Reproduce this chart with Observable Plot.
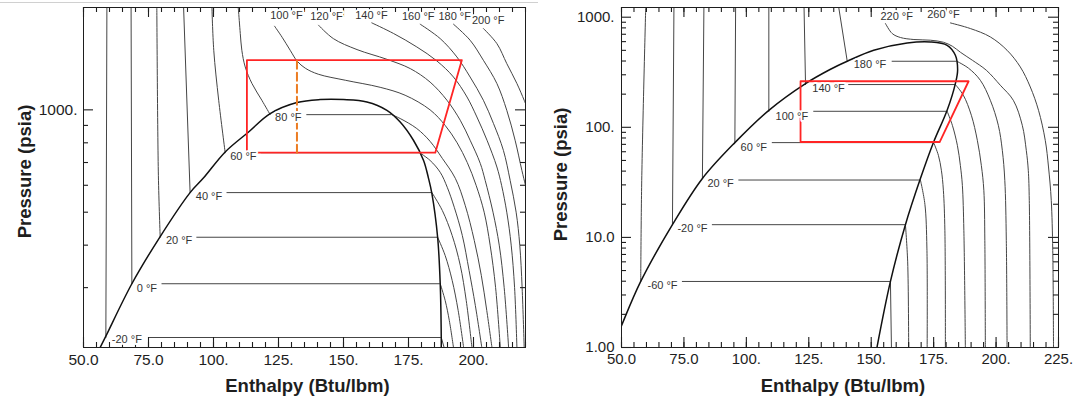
<!DOCTYPE html>
<html>
<head>
<meta charset="utf-8">
<script src="https://cdn.jsdelivr.net/npm/d3@7"></script>
<script src="https://cdn.jsdelivr.net/npm/@observablehq/plot@0.6"></script>
<style>
  html, body { margin: 0; padding: 0; background: #fff; }
  #wrap { position: relative; width: 1090px; height: 402px; overflow: hidden; background: #fff; }
  #left { position: absolute; left: 0; top: 0; }
  #right { position: absolute; left: 540px; top: 0; }
  #rule { position: absolute; left: 0; top: 2px; width: 538px; height: 1px; background: #d0d0d0; }
</style>
</head>
<body>
<div id="wrap"><div id="left"></div><div id="right"></div><div id="rule"></div></div>
<script>
// ---------------- LEFT CHART (CO2) : enthalpy h (Btu/lbm), pressure P (psia) ----------------
const co2XTicks = [50, 75, 100, 125, 150, 175, 200];
const co2XTickLabels = ["50.0", "75.0", "100.", "125.", "150.", "175.", "200."];
const co2XMinorTicks = d3.range(50, 221, 5);
const co2YTicks = [1000];
const co2YTickLabels = ["1000."];
const co2YMinorTicks = [300, 400, 500, 600, 700, 800, 900];

// saturation dome [h, P]
const co2Dome = [
  [56.4,200],[58.6,216],[68.6,308],[79.5,424],[91.0,571],[96.2,631],[104.5,752],[113.5,861],
  [121.8,975],[132.1,1051],[141.0,1072],[150.0,1072],[159.0,1055],[166.7,997],[171.8,921],
  [176.9,814],[180.8,710],[182.7,629],[184.0,567],[186.2,422],[187.2,308],[187.6,214],[187.6,200]
];
// compressed-liquid isotherms [T, h, P]
const co2Liquid = [
  [-20,58.6,214],[-20,59.0,2000],
  [0,68.6,308],[0,68.3,2000],
  [20,79.5,422],[20,78.8,642],[20,78.2,2000],
  [40,91.0,571],[40,88.5,2000],
  [60,104.5,748],[60,102.0,1067],[60,100.1,1497],[60,99.4,2000],
  [80,121.8,968],[80,118.6,1067],[80,114.8,1195],[80,112.2,1337],[80,110.9,1497],[80,110.3,1678],[80,109.6,1964],[80,109.5,2000]
];
// two-phase isotherm segments [T, hStart, hEnd, P]
const co2TwoPhase = [
  [-20,75.0,187.6,214],[0,80.2,187.2,308],[20,93.6,186.2,422],
  [40,105.2,184.0,571],[60,118.4,179.3,748],[80,135.9,168.5,968]
];
// vapour isotherms [T, h, P]
const co2Vapor = [
  [-20,187.6,214],[-20,188.7,200],
  [0,187.2,308],[0,189.1,275],[0,190.7,240],[0,192.3,200],
  [20,186.2,422],[20,189.1,373],[20,191.8,315],[20,194.1,257],[20,196.2,200],
  [40,184.0,571],[40,188.0,506],[40,191.8,427],[40,194.9,349],[40,197.2,275],[40,199.4,200],
  [60,179.3,748],[60,183.3,710],[60,187.2,655],[60,189.9,592],[60,192.6,517],[60,195.7,427],[60,198.3,337],[60,200.7,266],[60,203.2,200],
  [80,168.5,968],[80,171.8,943],[80,178.2,881],[80,183.3,808],[80,188.0,720],[80,193.0,629],[80,196.8,524],[80,200.3,413],[80,203.0,326],[80,205.1,257],[80,207.1,200]
];
// supercritical isotherms [T, h, P]
const co2Super = [
  [100,123.5,1762],[100,126.4,1635],[100,129.5,1497],[100,132.2,1390],[100,135.3,1326],[100,140.3,1273],[100,150.7,1222],[100,164.1,1165],[100,173.7,1104],[100,183.3,1000],[100,189.1,900],[100,193.7,800],[100,197.6,700],[100,201.0,600],[100,204.1,500],[100,206.4,400],[100,208.5,300],[100,210.3,200],
  [120,140.4,1774],[120,146.1,1620],[120,155.2,1504],[120,166.7,1408],[120,175.7,1322],[120,183.3,1207],[120,189.8,1067],[120,194.9,932],[120,198.7,814],[120,202.6,696],[120,204.5,620],[120,207.5,500],[120,209.9,400],[120,211.8,300],[120,213.5,200],
  [140,160.9,1802],[140,169.2,1678],[140,178.2,1531],[140,185.9,1393],[140,192.3,1249],[140,197.5,1091],[140,201.3,953],[140,205.2,814],[140,209.0,679],[140,210.8,600],[140,212.8,500],[140,214.5,400],[140,215.8,300],[140,216.7,200],
  [160,179.5,1786],[160,187.2,1620],[160,193.6,1431],[160,198.7,1249],[160,203.8,1067],[160,207.7,911],[160,211.5,760],[160,214.1,620],[160,216.4,500],[160,217.8,400],[160,218.7,300],[160,219.5,200],
  [180,192.3,1786],[180,198.7,1602],[180,203.8,1399],[180,209.0,1195],[180,212.8,997],[180,216.0,814],[180,218.6,664],[180,220.0,600],[180,221.0,560],
  [200,203.8,1735],[200,209.0,1566],[200,212.8,1368],[200,216.7,1195],[200,219.5,1067],[200,221.0,1000]
];
// isotherm labels [text, h, P]
const co2Labels = [
  ["-20 °F",60.9,211],["0 °F",70.5,299],["20 °F",81.7,413],["40 °F",93.2,557],
  ["60 °F",106.4,730],["80 °F",123.7,949],
  ["100 °F",121.8,1889],["120 °F",137.2,1888],["140 °F",154.5,1898],
  ["160 °F",172.5,1888],["180 °F",186.5,1888],["200 °F",199.4,1835]
];
// cycle (red) and expansion (orange dashed) [h, P]
const co2Cycle = [[112.85,748],[185.3,748],[195.5,1400],[112.85,1400],[112.85,748]];
const co2Expansion = [[132.1,748],[132.1,1400]];

// ---------------- RIGHT CHART (R-134a) ----------------
const rXTicks = [50, 75, 100, 125, 150, 175, 200, 225];
const rXTickLabels = ["50.0", "75.0", "100.", "125.", "150.", "175.", "200.", "225."];
const rXMinorTicks = d3.range(50, 226, 5);
const rYTicks = [1, 10, 100, 1000];
const rYTickLabels = ["1.00", "10.0", "100.", "1000."];
const rYMinorTicks = [2,3,4,5,6,7,8,9,20,30,40,50,60,70,80,90,200,300,400,500,600,700,800,900];

const rDome = [
  [48.1,1.24],[50.0,1.58],[57.7,3.98],[70.4,13.05],[82.4,34.3],[95.4,72.6],[109.0,142.7],[123.7,249.6],
  [133.7,336.8],[140.4,398],[151.0,501],[164.4,583.6],[173.7,596.5],[180.4,556],[183.7,451],
  [184.6,330],[183.7,249.6],[180.4,142.7],[175.0,73.5],[169.7,34.2],[163.7,13.05],[157.7,3.98],[152.3,1.0]
];
const rLiquid = [
  [-60,57.7,3.98],[-60,58.1,33],[-60,59.7,1225],
  [-20,70.4,13.05],[-20,71.0,1225],
  [20,82.4,34.3],[20,83.0,1225],
  [60,95.4,72.6],[60,95.7,1225],
  [100,109.0,139.8],[100,109.0,1225],
  [140,123.7,244.5],[140,123.1,1225],
  [180,140.4,398],[180,137.0,1225]
];
const rTwoPhase = [
  [-60,74.4,157.7,3.98],[-20,86.4,163.7,13.05],[20,97.0,169.7,33.2],[60,110.4,175.0,72.6],
  [100,127.0,180.4,139.8],[140,141.0,183.7,244.5],[180,158.4,184.3,398]
];
const rVapor = [
  [-60,157.7,3.98],[-60,158.1,1],
  [-20,163.7,13.05],[-20,164.6,6],[-20,165.0,1],
  [20,169.7,33.2],[20,171.5,20],[20,172.3,8],[20,172.4,1],
  [60,175.0,72.6],[60,176.9,55.7],[60,178.1,40.7],[60,178.9,26.8],[60,179.5,11.6],[60,179.7,1],
  [100,180.4,139.8],[100,182.5,104.3],[100,184.5,68.6],[100,185.7,45.1],[100,186.5,29.7],[100,187.1,11.6],[100,187.7,1],
  [140,183.7,244.5],[140,186.9,195.5],[140,190.1,128.6],[140,192.5,76.2],[140,194.1,45.1],[140,195.1,26.8],[140,195.5,9.4],[140,195.7,1],
  [180,184.3,398],[180,189.0,343.8],[180,193.7,267.4],[180,197.7,176],[180,200.9,104.3],[180,202.5,61.8],[180,203.5,33],[180,204.1,9.4],[180,204.4,1]
];
const rSuper = [
  [220,155.7,876.6],[220,158.4,711],[220,161.7,654],[220,167.1,627],[220,173.7,618],[220,178.9,592.5],[220,182.5,545],[220,185.7,480.7],[220,190.5,406.5],[220,196.1,329.7],[220,201.7,240.9],[220,206.9,176],[220,210.5,104.3],[220,212.1,61.8],[220,212.9,40.7],[220,213.3,21.7],[220,213.7,1],
  [260,181.7,887.5],[260,189.7,789],[260,197.7,662],[260,204.4,501],[260,209.7,353.4],[260,213.7,232.4],[260,217.0,142.7],[260,219.7,76.2],[260,221.0,43.6],[260,222.1,21.7],[260,222.7,7.6],[260,223.0,1]
];
const rLabels = [
  ["-60 °F",60.4,3.66],["-20 °F",72.4,12.0],["20 °F",84.4,30.8],["60 °F",97.7,66.2],
  ["100 °F",111.7,125.9],["140 °F",126.4,224.8],["180 °F",143.0,371.6],
  ["220 °F",153.7,1021],["260 °F",172.4,1050]
];
const rCycle = [[121.7,73.5],[177.4,73.5],[189.0,262],[121.7,262],[121.7,73.5]];

// ---------------- drawing ----------------
const FONT = "'Liberation Sans', Arial, Helvetica, sans-serif";
const INK = "#1e1e1e";
const ISO = "#454545";
const HEIGHT = 402, MT = 7, MB = 55;

// inward ticks on all four sides, drawn as frame-spanning ticks with large insets
function tickMarks(c) {
  const fh = HEIGHT - MT - MB, fw = c.width - c.ml - c.mr;
  const s = {stroke: INK, strokeWidth: 1.1};
  const X = d => d;
  return [
    Plot.tickX(c.xMinor, {x: X, insetTop: fh - 5, ...s}),
    Plot.tickX(c.xMinor, {x: X, insetBottom: fh - 5, ...s}),
    Plot.tickX(c.xTicks, {x: X, insetTop: fh - 10, ...s}),
    Plot.tickX(c.xTicks, {x: X, insetBottom: fh - 10, ...s}),
    Plot.tickY(c.yMinor, {y: X, insetRight: fw - 5, ...s}),
    Plot.tickY(c.yMinor, {y: X, insetLeft: fw - 5, ...s}),
    Plot.tickY(c.yTicks, {y: X, insetRight: fw - 10, ...s}),
    Plot.tickY(c.yTicks, {y: X, insetLeft: fw - 10, ...s})
  ];
}

function chart(c) {
  const iso = {x: d => d[1], y: d => d[2], z: d => d[0], stroke: ISO, strokeWidth: 1, curve: "catmull-rom", clip: true};
  const fmt = (ticks, labels) => d => labels[ticks.indexOf(d)];
  const marks = [
    Plot.line(c.liquid, iso),
    Plot.ruleY(c.twoPhase, {y: d => d[3], x1: d => d[1], x2: d => d[2], stroke: ISO, strokeWidth: 1}),
    Plot.line(c.vapor, iso),
    Plot.line(c.superc, iso),
    Plot.line(c.dome, {x: d => d[0], y: d => d[1], stroke: "#111", strokeWidth: 1.5, curve: "catmull-rom", clip: true}),
    Plot.line(c.cycle, {x: d => d[0], y: d => d[1], stroke: "#ff2424", strokeWidth: 1.8}),
    c.expansion ? Plot.line(c.expansion, {x: d => d[0], y: d => d[1], stroke: "#ec7c22", strokeWidth: 2, strokeDasharray: "8,4"}) : null,
    ...tickMarks(c),
    Plot.text(c.labels, {x: d => d[1], y: d => d[2], text: d => d[0], textAnchor: "start",
      fontSize: 11, fill: "#333", stroke: "white", strokeWidth: 4, paintOrder: "stroke"}),
    Plot.frame({stroke: INK, strokeWidth: 1}),
    Plot.axisX(c.xTicks, {anchor: "bottom", tickSize: 0, tickPadding: 6, tickFormat: fmt(c.xTicks, c.xLabels),
      label: null, fontSize: c.tickFont, fill: INK}),
    Plot.axisY(c.yTicks, {anchor: "left", tickSize: 0, tickPadding: c.yPad, tickFormat: fmt(c.yTicks, c.yLabels),
      label: null, fontSize: c.tickFont, fill: INK}),
    Plot.text(["Enthalpy (Btu/lbm)"], {frameAnchor: "bottom", dy: 44.5, dx: 3, lineAnchor: "bottom",
      fontSize: 18.5, fontWeight: "bold", fill: INK}),
    Plot.text(["Pressure (psia)"], {frameAnchor: "left", rotate: -90, dx: c.titleDx, dy: c.titleDy,
      lineAnchor: "bottom", textAnchor: "middle", fontSize: 18.5, fontWeight: "bold", fill: INK})
  ].filter(Boolean);
  return Plot.plot({
    width: c.width, height: HEIGHT,
    marginLeft: c.ml, marginRight: c.mr, marginTop: MT, marginBottom: MB,
    x: {domain: c.xDomain},
    y: {type: "log", domain: c.yDomain},
    style: {fontFamily: FONT, background: "white", color: INK, overflow: "visible"},
    marks
  });
}

document.getElementById("left").append(chart({
  width: 540, ml: 83, mr: 15, xDomain: [50, 220], yDomain: [200, 2000],
  xTicks: co2XTicks, xLabels: co2XTickLabels, xMinor: co2XMinorTicks,
  yTicks: co2YTicks, yLabels: co2YTickLabels, yMinor: co2YMinorTicks,
  dome: co2Dome, liquid: co2Liquid, twoPhase: co2TwoPhase, vapor: co2Vapor, superc: co2Super,
  labels: co2Labels, cycle: co2Cycle, expansion: co2Expansion,
  tickFont: 15.5, yPad: 6, titleDx: -53, titleDy: -6
}));

document.getElementById("right").append(chart({
  width: 550, ml: 81, mr: 32, xDomain: [50, 225], yDomain: [1, 1225],
  xTicks: rXTicks, xLabels: rXTickLabels, xMinor: rXMinorTicks,
  yTicks: rYTicks, yLabels: rYTickLabels, yMinor: rYMinorTicks,
  dome: rDome, liquid: rLiquid, twoPhase: rTwoPhase, vapor: rVapor, superc: rSuper,
  labels: rLabels, cycle: rCycle, expansion: null,
  tickFont: 15, yPad: 7, titleDx: -55, titleDy: -3
}));
</script>
</body>
</html>
